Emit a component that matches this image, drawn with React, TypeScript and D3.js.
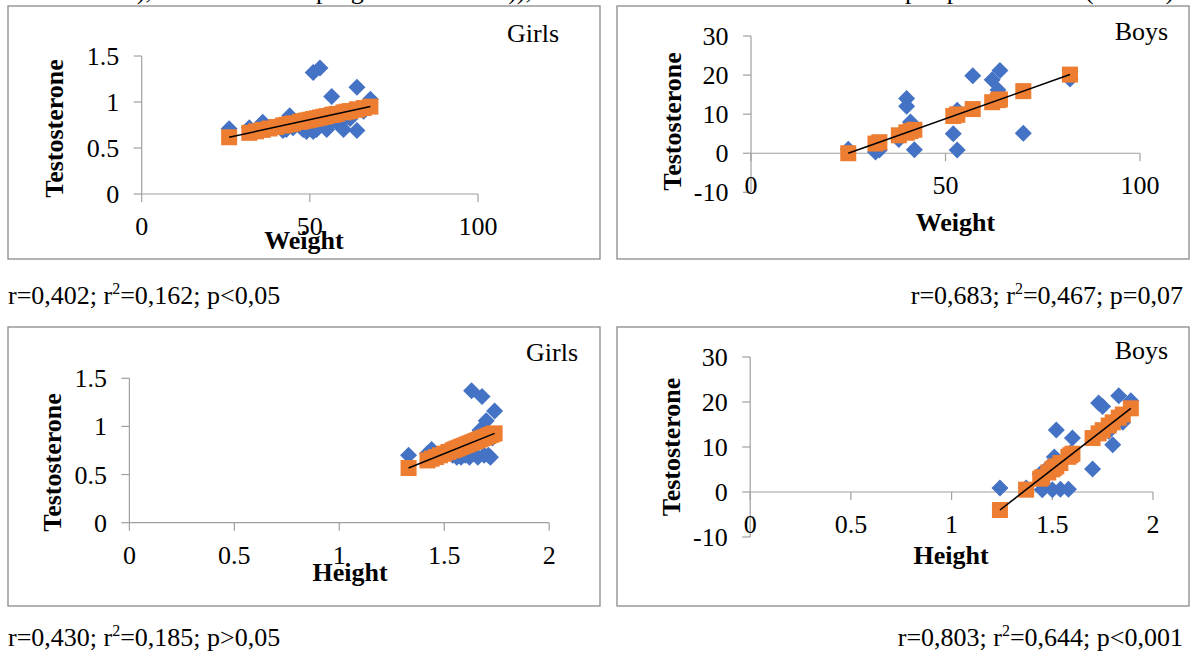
import React from "react";
import * as d3 from "d3";

// ---------- data ----------
const girlsWeight = [26, 32, 34, 36, 38, 40, 42, 43, 44, 45, 47, 48, 49, 50, 51, 51, 52, 53, 54, 55, 56.5, 57, 58, 60, 61, 62, 64, 64, 66, 68];
const girlsWeightTesto = [0.71, 0.72, 0.70, 0.78, 0.72, 0.74, 0.69, 0.70, 0.85, 0.72, 0.74, 0.70, 0.68, 0.72, 0.68, 1.32, 0.70, 1.37, 0.76, 0.70, 1.06, 0.80, 0.78, 0.70, 0.84, 0.82, 1.16, 0.69, 0.90, 1.03];
const girlsWeightPred = [0.617, 0.665, 0.681, 0.697, 0.712, 0.728, 0.744, 0.752, 0.760, 0.768, 0.784, 0.792, 0.800, 0.807, 0.815, 0.815, 0.823, 0.831, 0.839, 0.847, 0.859, 0.863, 0.871, 0.887, 0.895, 0.902, 0.918, 0.918, 0.934, 0.950];

const boysWeight = [25, 32, 33, 38, 40, 40, 41, 42, 52, 53, 53, 57, 62, 63.5, 64, 70, 82];
const boysWeightTesto = [1.0, 0.3, 0.8, 3.5, 14.0, 12.0, 8.0, 0.9, 5.0, 0.8, 11.0, 19.8, 18.8, 16.2, 21.2, 5.1, 19.0];
const boysWeightPred = [0.0, 2.47, 2.82, 4.59, 5.30, 5.30, 5.65, 6.00, 9.53, 9.88, 9.88, 11.30, 13.06, 13.59, 13.77, 15.89, 20.13];

const girlsHeight = [1.33, 1.42, 1.44, 1.46, 1.48, 1.50, 1.52, 1.54, 1.55, 1.56, 1.57, 1.58, 1.59, 1.60, 1.61, 1.62, 1.63, 1.64, 1.65, 1.66, 1.67, 1.68, 1.69, 1.70, 1.71, 1.72, 1.73, 1.74];
const girlsHeightTesto = [0.70, 0.72, 0.76, 0.68, 0.70, 0.72, 0.74, 0.70, 0.78, 0.68, 0.72, 0.68, 0.75, 0.70, 0.80, 0.68, 1.37, 0.72, 0.85, 0.68, 0.96, 1.31, 0.70, 1.06, 0.70, 0.68, 0.88, 1.16];
const girlsHeightPred = [0.568, 0.647, 0.665, 0.682, 0.700, 0.717, 0.735, 0.752, 0.761, 0.770, 0.779, 0.788, 0.796, 0.805, 0.814, 0.823, 0.832, 0.840, 0.849, 0.858, 0.867, 0.876, 0.884, 0.893, 0.902, 0.911, 0.919, 0.928];

const boysHeight = [1.24, 1.37, 1.44, 1.45, 1.48, 1.50, 1.51, 1.52, 1.54, 1.58, 1.59, 1.60, 1.70, 1.73, 1.75, 1.78, 1.80, 1.83, 1.85, 1.89];
const boysHeightTesto = [0.9, 0.9, 4.0, 0.5, 5.5, 0.5, 7.8, 13.8, 0.6, 0.6, 8.7, 12.0, 5.1, 19.8, 19.0, 13.5, 10.5, 21.4, 15.5, 20.3];
const boysHeightPred = [-4.0, 0.52, 2.95, 3.30, 4.34, 5.04, 5.38, 5.73, 6.43, 7.82, 8.17, 8.51, 11.99, 13.03, 13.73, 14.77, 15.47, 16.51, 17.21, 18.60];

const girlsYTicks = [0, 0.5, 1, 1.5];
const boysYTicks = [-10, 0, 10, 20, 30];
const weightXTicks = [0, 50, 100];
const heightXTicks = [0, 0.5, 1, 1.5, 2];

const stats = [
  { r: "0,402", r2: "0,162", p: "p<0,05" },
  { r: "0,683", r2: "0,467", p: "p=0,07" },
  { r: "0,430", r2: "0,185", p: "p>0,05" },
  { r: "0,803", r2: "0,644", p: "p<0,001" },
];

// ---------- styling ----------
const FONT = "'Liberation Serif','Times New Roman',serif";
const BLUE = "#4472C4";
const ORANGE = "#ED7D31";
const AXIS = "#a0a0a0";
const BORDER = "#8a8a8a";
const FS = 26;

type Cfg = {
  box: [number, number, number, number];
  xDomain: [number, number];
  xRange: [number, number];
  yDomain: [number, number];
  yRange: [number, number];
  xTicks: number[];
  yTicks: number[];
  xTitle: string;
  xTitlePos: [number, number];
  yTitlePos: [number, number];
  sex: string;
  sexPos: [number, number];
};

const panels: Cfg[] = [
  { box: [8, 6, 592, 253], xDomain: [0, 100], xRange: [141.7, 478], yDomain: [0, 1.5], yRange: [194, 56], xTicks: weightXTicks, yTicks: girlsYTicks, xTitle: "Weight", xTitlePos: [304, 249], yTitlePos: [63, 128.5], sex: "Girls", sexPos: [533, 42] },
  { box: [617, 6, 572, 253], xDomain: [0, 100], xRange: [751, 1140], yDomain: [-10, 30], yRange: [192.3, 36], xTicks: weightXTicks, yTicks: boysYTicks, xTitle: "Weight", xTitlePos: [955.5, 231], yTitlePos: [681, 121.5], sex: "Boys", sexPos: [1141.5, 40] },
  { box: [8, 327, 592, 279], xDomain: [0, 2], xRange: [129.4, 549.2], yDomain: [0, 1.5], yRange: [522.7, 378.3], xTicks: heightXTicks, yTicks: girlsYTicks, xTitle: "Height", xTitlePos: [350, 581], yTitlePos: [61, 462.5], sex: "Girls", sexPos: [552, 361] },
  { box: [617, 327, 572, 279], xDomain: [0, 2], xRange: [750.2, 1153], yDomain: [-10, 30], yRange: [537, 357], xTicks: heightXTicks, yTicks: boysYTicks, xTitle: "Height", xTitlePos: [951, 564], yTitlePos: [680, 447], sex: "Boys", sexPos: [1141.5, 359] },
];

const series = [
  { xs: girlsWeight, ys: girlsWeightTesto, ps: girlsWeightPred },
  { xs: boysWeight, ys: boysWeightTesto, ps: boysWeightPred },
  { xs: girlsHeight, ys: girlsHeightTesto, ps: girlsHeightPred },
  { xs: boysHeight, ys: boysHeightTesto, ps: boysHeightPred },
];

const diamond = "M0,-8.5L8.5,0L0,8.5L-8.5,0Z";

function Panel({ cfg, xs, ys, ps }: { cfg: Cfg; xs: number[]; ys: number[]; ps: number[] }) {
  const x = d3.scaleLinear().domain(cfg.xDomain).range(cfg.xRange);
  const y = d3.scaleLinear().domain(cfg.yDomain).range(cfg.yRange);
  const ax = x(0);
  const ay = y(0);
  const yMin = d3.min(cfg.yTicks) as number;
  const yMax = d3.max(cfg.yTicks) as number;
  const xMax = d3.max(cfg.xTicks) as number;
  const idxMin = d3.minIndex(xs);
  const idxMax = d3.maxIndex(xs);
  const line = d3.line<[number, number]>().x((d) => x(d[0])).y((d) => y(d[1]));
  const trend = line([[xs[idxMin], ps[idxMin]], [xs[idxMax], ps[idxMax]]]) || "";
  const [bx, by, bw, bh] = cfg.box;
  return (
    <g>
      <rect x={bx} y={by} width={bw} height={bh} fill="#fff" stroke={BORDER} strokeWidth={1.3} />
      {/* axes */}
      <line x1={ax} x2={ax} y1={y(yMin)} y2={y(yMax)} stroke={AXIS} strokeWidth={1.2} />
      <line x1={ax} x2={x(xMax)} y1={ay} y2={ay} stroke={AXIS} strokeWidth={1.2} />
      {cfg.yTicks.map((v) => (
        <g key={"yt" + v}>
          <line x1={ax - 8} x2={ax} y1={y(v)} y2={y(v)} stroke={AXIS} strokeWidth={1.2} />
          <text x={ax - 22.5} y={y(v) + 9} textAnchor="end" fontSize={FS} fontFamily={FONT} fill="#000">
            {String(v)}
          </text>
        </g>
      ))}
      {cfg.xTicks.map((v) => (
        <g key={"xt" + v}>
          <line x1={x(v)} x2={x(v)} y1={ay} y2={ay + 8} stroke={AXIS} strokeWidth={1.2} />
          <text x={x(v)} y={ay + 41} textAnchor="middle" fontSize={FS} fontFamily={FONT} fill="#000">
            {String(v)}
          </text>
        </g>
      ))}
      {/* points */}
      {xs.map((v, i) => (
        <path key={"d" + i} d={diamond} transform={`translate(${x(v)},${y(ys[i])})`} fill={BLUE} />
      ))}
      {xs.map((v, i) => (
        <rect key={"s" + i} x={x(v) - 8} y={y(ps[i]) - 8} width={16} height={16} fill={ORANGE} />
      ))}
      <path d={trend} stroke="#000" strokeWidth={1.5} fill="none" />
      {/* titles */}
      <text x={cfg.xTitlePos[0]} y={cfg.xTitlePos[1]} textAnchor="middle" fontSize={FS} fontWeight="bold" fontFamily={FONT}>
        {cfg.xTitle}
      </text>
      <text transform={`translate(${cfg.yTitlePos[0]},${cfg.yTitlePos[1]}) rotate(-90)`} textAnchor="middle" fontSize={FS} fontWeight="bold" fontFamily={FONT}>
        Testosterone
      </text>
      <text x={cfg.sexPos[0]} y={cfg.sexPos[1]} textAnchor="middle" fontSize={FS} fontFamily={FONT}>
        {cfg.sex}
      </text>
    </g>
  );
}

function Stat({ s, x, y, anchor }: { s: { r: string; r2: string; p: string }; x: number; y: number; anchor: string }) {
  return (
    <text x={x} y={y} textAnchor={anchor} fontSize={26} fontFamily={FONT} fill="#000">
      {"r=" + s.r + "; r"}
      <tspan dy={-10} fontSize={16}>2</tspan>
      <tspan dy={10}>{"=" + s.r2 + "; " + s.p}</tspan>
    </text>
  );
}

export default function App() {
  return (
    <svg width={1192} height={657} style={{ position: "absolute", left: 0, top: 0, background: "#fff" }} fontFamily={FONT}>
      <rect x={0} y={0} width={1192} height={657} fill="#fff" />
      {/* cut-off caption line above the figure (only descenders visible) */}
      <g fontSize={FS} fontFamily={FONT}>
        <text x={152} y={-1}>{""}</text>
        <text x={152} y={-1} textAnchor="end">testosterone levels),</text>
        <text x={316} y={-1}>program</text>
        <text x={532} y={-1} textAnchor="end">children)),</text>
        <text x={905} y={-1}>pre-pubertal</text>
        <text x={1085} y={-1}>(Tanner)</text>
      </g>
      {panels.map((cfg, i) => (
        <Panel key={i} cfg={cfg} xs={series[i].xs} ys={series[i].ys} ps={series[i].ps} />
      ))}
      <Stat s={stats[0]} x={8} y={304} anchor="start" />
      <Stat s={stats[1]} x={1183} y={304} anchor="end" />
      <Stat s={stats[2]} x={8} y={646} anchor="start" />
      <Stat s={stats[3]} x={1183} y={646} anchor="end" />
    </svg>
  );
}
